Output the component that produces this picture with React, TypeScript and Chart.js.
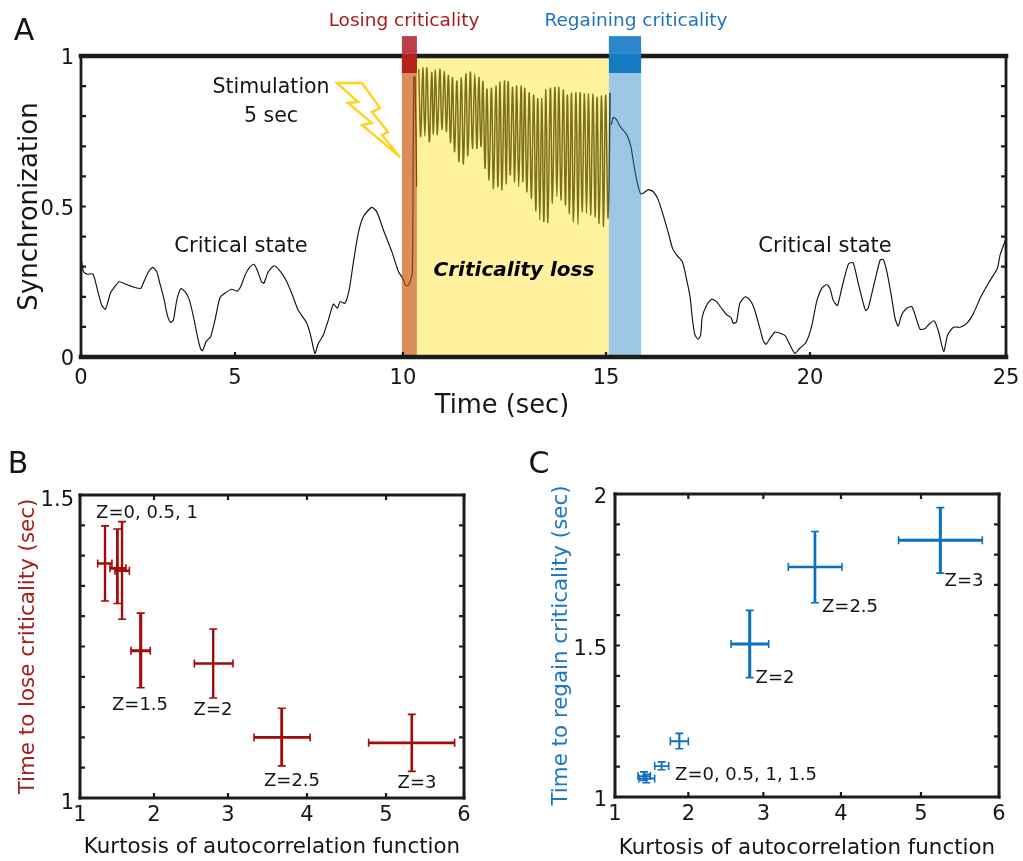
import React, { useEffect, useRef } from "react";
import { Chart, LinearScale, registerables } from "chart.js";

const FONT = "'DejaVu Sans'";

// ---------- Panel A data (time in s, synchronization) ----------
const preTimes = [0.02,0.08,0.21,0.38,0.45,0.56,0.67,0.79,0.89,0.96,1.10,1.24,1.48,1.75,1.94,2.02,2.19,2.33,2.46,2.56,2.69,2.80,2.91,3.00,3.11,3.24,3.38,3.52,3.65,3.78,3.89,3.95,4.06,4.21,4.35,4.51,4.67,4.89,5.07,5.17,5.30,5.45,5.56,5.66,5.79,5.86,5.99,6.16,6.32,6.49,6.69,6.88,7.13,7.25,7.38,7.48,7.63,7.78,7.93,8.05,8.13,8.27,8.40,8.52,8.67,8.82,9.07,9.22,9.42,9.67,9.87,10.0,10.07,10.14,10.23,10.25,10.27,10.30,10.34];
const preSync = [0.317,0.283,0.275,0.276,0.258,0.212,0.173,0.158,0.189,0.214,0.234,0.250,0.241,0.231,0.228,0.245,0.283,0.298,0.283,0.245,0.195,0.140,0.115,0.123,0.189,0.227,0.217,0.189,0.134,0.068,0.025,0.021,0.051,0.068,0.123,0.197,0.212,0.225,0.219,0.234,0.272,0.300,0.308,0.289,0.250,0.245,0.283,0.303,0.289,0.261,0.212,0.156,0.114,0.073,0.012,0.045,0.073,0.123,0.176,0.162,0.184,0.178,0.223,0.311,0.411,0.466,0.497,0.483,0.422,0.350,0.283,0.261,0.237,0.239,0.278,0.600,0.930,0.930,0.566];
const stimPeakTimes = [10.39,10.49,10.59,10.71,10.80,10.91,11.02,11.12,11.22,11.33,11.44,11.55,11.66,11.77,11.87,11.97,12.07,12.18,12.29,12.39,12.50,12.59,12.70,12.80,12.91,13.00,13.11,13.22,13.32,13.42,13.52,13.63,13.74,13.84,13.95,14.05,14.15,14.26,14.36,14.47,14.57,14.68,14.78,14.89,14.99,15.10];
const stimPeakSync = [0.956,0.961,0.961,0.945,0.953,0.956,0.948,0.935,0.928,0.917,0.928,0.940,0.947,0.940,0.929,0.915,0.890,0.893,0.901,0.913,0.917,0.915,0.896,0.900,0.900,0.893,0.878,0.870,0.859,0.859,0.889,0.893,0.896,0.896,0.887,0.870,0.876,0.878,0.878,0.874,0.874,0.873,0.863,0.867,0.870,0.878];
const stimTroughTimes = [10.44,10.54,10.65,10.75,10.85,10.96,11.07,11.17,11.27,11.38,11.49,11.60,11.71,11.82,11.92,12.02,12.12,12.23,12.34,12.44,12.54,12.64,12.75,12.85,12.95,13.05,13.16,13.27,13.37,13.47,13.57,13.68,13.79,13.89,14.00,14.10,14.20,14.31,14.41,14.52,14.62,14.73,14.83,14.94,15.05];
const stimTroughSync = [0.732,0.734,0.715,0.741,0.738,0.756,0.749,0.712,0.682,0.649,0.641,0.668,0.693,0.693,0.699,0.627,0.588,0.560,0.566,0.555,0.575,0.605,0.582,0.566,0.582,0.549,0.527,0.486,0.455,0.450,0.446,0.511,0.533,0.522,0.505,0.477,0.450,0.439,0.483,0.477,0.472,0.466,0.444,0.433,0.461];
const postTimes = [15.13,15.18,15.25,15.34,15.51,15.61,15.69,15.78,15.85,15.93,16.04,16.16,16.28,16.40,16.53,16.63,16.73,16.87,16.96,17.06,17.12,17.18,17.26,17.32,17.36,17.47,17.59,17.71,17.83,17.96,18.06,18.12,18.20,18.28,18.41,18.53,18.63,18.76,18.85,18.92,19.02,19.14,19.26,19.39,19.51,19.63,19.75,19.90,20.04,20.17,20.30,20.43,20.51,20.59,20.70,20.81,20.98,21.10,21.23,21.36,21.42,21.49,21.66,21.79,21.87,21.97,22.08,22.17,22.25,22.34,22.47,22.60,22.68,22.81,22.94,23.06,23.17,23.28,23.41,23.51,23.66,23.83,24.00,24.17,24.34,24.55,24.78,24.85,25.0];
const postSync = [0.771,0.796,0.790,0.767,0.738,0.699,0.632,0.571,0.542,0.546,0.556,0.549,0.522,0.472,0.411,0.361,0.339,0.317,0.267,0.200,0.123,0.073,0.059,0.073,0.134,0.173,0.192,0.184,0.162,0.140,0.132,0.112,0.117,0.178,0.200,0.189,0.162,0.101,0.056,0.042,0.062,0.083,0.079,0.071,0.040,0.012,0.029,0.048,0.101,0.184,0.228,0.241,0.228,0.189,0.171,0.228,0.309,0.313,0.245,0.178,0.154,0.165,0.256,0.322,0.324,0.278,0.200,0.128,0.103,0.140,0.162,0.167,0.140,0.092,0.095,0.112,0.120,0.084,0.018,0.073,0.099,0.099,0.112,0.145,0.195,0.245,0.295,0.339,0.394];

const timeTickLabels = [0, 5, 10, 15, 20, 25];
const syncTickLabels = [0, 0.5, 1];
const losingBand = [9.97, 10.345];
const lossBand = [10.345, 15.07];
const regainingBand = [15.07, 15.86];
const headerBox = [0.9435, 1.007, 1.066];

// ---------- Panel B data ----------
const bKurtosis = [1.338, 1.505, 1.568, 1.82, 2.8, 3.68, 5.33];
const bKurtosisLow = [1.239, 1.405, 1.473, 1.689, 2.545, 3.33, 4.78];
const bKurtosisHigh = [1.432, 1.622, 1.667, 1.95, 3.063, 4.04, 5.88];
const bTime = [1.387, 1.379, 1.375, 1.243, 1.222, 1.1, 1.091];
const bTimeLow = [1.325, 1.321, 1.295, 1.182, 1.165, 1.053, 1.044];
const bTimeHigh = [1.449, 1.444, 1.456, 1.305, 1.279, 1.148, 1.138];
const bStroke = [2.4, 2.8, 2.4, 3.1, 2.4, 2.8, 2.6];

// ---------- Panel C data ----------
const cKurtosis = [1.395, 1.427, 1.636, 1.877, 2.818, 3.665, 5.248];
const cKurtosisLow = [1.314, 1.327, 1.541, 1.755, 2.569, 3.322, 4.72];
const cKurtosisHigh = [1.482, 1.541, 1.732, 2.0, 3.069, 4.0125, 5.786];
const cTime = [1.069, 1.061, 1.102, 1.184, 1.505, 1.759, 1.847];
const cTimeLow = [1.055, 1.047, 1.09, 1.159, 1.394, 1.641, 1.739];
const cTimeHigh = [1.083, 1.075, 1.116, 1.21, 1.616, 1.876, 1.955];
const cStroke = [1.8, 1.8, 1.8, 2.1, 3, 2.7, 3];

const kurtosisStops = [1, 2, 3, 4, 5, 6];
const bKurtosisFractions = [0, 0.1927, 0.3854, 0.591, 0.797, 1];
const cKurtosisFractions = [0, 0.191, 0.3863, 0.5885, 0.7969, 1];
const timeStops = [0, 5, 10, 15, 20, 25];
const timeFractions = [0, 0.1665, 0.348, 0.5676, 0.7881, 1];

// The original axes are assembled from hand-placed panels: ticks are unevenly spaced.
class PiecewiseScale extends LinearScale {
  static id = "piecewise";
  static defaults = LinearScale.defaults;
  getPixelForValue(value: number) {
    const { stops, fractions } = this.options as any;
    if (value === null || value === undefined) return NaN;
    let i = 0;
    while (i < stops.length - 2 && value > stops[i + 1]) i++;
    const f = fractions[i] + ((value - stops[i]) / (stops[i + 1] - stops[i])) * (fractions[i + 1] - fractions[i]);
    return this.getPixelForDecimal(f);
  }
}
Chart.register(...registerables, PiecewiseScale);

type Note = { text: string; x: number; y: number; size: number; color?: string; weight?: string };

const textPlugin = (notes: Note[], ox: number, oy: number) => ({
  id: "notes",
  afterDraw(chart: any) {
    const { ctx } = chart;
    ctx.save();
    ctx.textAlign = "center";
    ctx.textBaseline = "middle";
    for (const n of notes) {
      ctx.font = `${n.weight ?? ""} ${n.size}px ${FONT}`;
      ctx.fillStyle = n.color ?? "#151515";
      ctx.fillText(n.text, n.x - ox, n.y - oy + 1.5);
    }
    ctx.restore();
  },
});

const framePlugin = (cfg: { tb: number; lr: number; top: boolean; len: number }) => ({
  id: "frame",
  afterDatasetsDraw(chart: any) {
    const { ctx, chartArea: a, scales } = chart;
    ctx.save();
    ctx.strokeStyle = "#1c1c1c";
    ctx.lineWidth = 2.2;
    ctx.beginPath();
    for (const t of scales.x.ticks) {
      const p = scales.x.getPixelForValue(t.value);
      ctx.moveTo(p, a.bottom);
      ctx.lineTo(p, a.bottom - cfg.len);
      if (cfg.top) {
        ctx.moveTo(p, a.top);
        ctx.lineTo(p, a.top + cfg.len);
      }
    }
    for (const t of scales.y.ticks) {
      const p = scales.y.getPixelForValue(t.value);
      ctx.moveTo(a.left, p);
      ctx.lineTo(a.left + cfg.len, p);
      ctx.moveTo(a.right, p);
      ctx.lineTo(a.right - cfg.len, p);
    }
    ctx.stroke();
    ctx.lineCap = "square";
    ctx.lineWidth = cfg.tb;
    ctx.beginPath();
    ctx.moveTo(a.left, a.top);
    ctx.lineTo(a.right, a.top);
    ctx.moveTo(a.left, a.bottom);
    ctx.lineTo(a.right, a.bottom);
    ctx.stroke();
    ctx.lineWidth = cfg.lr;
    ctx.beginPath();
    ctx.moveTo(a.left, a.top);
    ctx.lineTo(a.left, a.bottom);
    ctx.moveTo(a.right, a.top);
    ctx.lineTo(a.right, a.bottom);
    ctx.stroke();
    ctx.restore();
  },
});

const bandsPlugin = {
  id: "bands",
  afterDatasetsDraw(chart: any) {
    const { ctx, chartArea: a, scales: { x } } = chart;
    const rect = (b: number[], top: number, bottom: number, color: string) => {
      ctx.fillStyle = color;
      ctx.fillRect(x.getPixelForValue(b[0]), top, x.getPixelForValue(b[1]) - x.getPixelForValue(b[0]), bottom - top);
    };
    ctx.save();
    rect(lossBand, a.top, a.bottom, "rgba(254,225,40,0.45)");
    rect(losingBand, a.top, a.bottom, "rgba(197,83,5,0.65)");
    rect(regainingBand, a.top, a.bottom, "rgba(35,133,200,0.45)");
    ctx.restore();
  },
};

const boxesPlugin = {
  id: "boxes",
  afterDatasetsDraw(chart: any) {
    const { ctx, scales: { x, y } } = chart;
    const rect = (b: number[], lo: number, hi: number, color: string) => {
      ctx.fillStyle = color;
      const t = y.getPixelForValue(hi);
      ctx.fillRect(x.getPixelForValue(b[0]), t, x.getPixelForValue(b[1]) - x.getPixelForValue(b[0]), y.getPixelForValue(lo) - t);
    };
    ctx.save();
    rect(losingBand, headerBox[0], headerBox[1], "#B3231A");
    rect(losingBand, headerBox[1], headerBox[2], "#BB4049");
    rect(regainingBand, headerBox[0], headerBox[1], "#157BC2");
    rect(regainingBand, headerBox[1], headerBox[2], "#2B87CA");
    ctx.restore();
  },
};

const boltPlugin = {
  id: "bolt",
  afterDraw(chart: any) {
    const { ctx } = chart;
    const pts = [[337, 83], [362, 83], [380, 108], [372, 112], [388, 132], [382, 135], [400, 157], [362, 125], [372, 123], [348, 103], [358, 102]];
    ctx.save();
    ctx.beginPath();
    pts.forEach((p, i) => (i ? ctx.lineTo(p[0], p[1]) : ctx.moveTo(p[0], p[1])));
    ctx.closePath();
    ctx.fillStyle = "#ffffff";
    ctx.fill();
    ctx.strokeStyle = "#FFD31A";
    ctx.lineWidth = 2.4;
    ctx.stroke();
    ctx.restore();
  },
};

const crossPlugin = (lowX: number[], highX: number[], lowY: number[], highY: number[], stroke: number[], color: string) => ({
  id: "crosses",
  afterDatasetsDraw(chart: any) {
    const { ctx, scales: { x, y } } = chart;
    const pts = chart.data.datasets[0].data;
    ctx.save();
    ctx.strokeStyle = color;
    pts.forEach((p: any, i: number) => {
      const px = x.getPixelForValue(p.x);
      const py = y.getPixelForValue(p.y);
      const x0 = x.getPixelForValue(lowX[i]);
      const x1 = x.getPixelForValue(highX[i]);
      const y0 = y.getPixelForValue(lowY[i]);
      const y1 = y.getPixelForValue(highY[i]);
      ctx.lineWidth = stroke[i];
      ctx.beginPath();
      ctx.moveTo(x0, py);
      ctx.lineTo(x1, py);
      ctx.moveTo(px, y0);
      ctx.lineTo(px, y1);
      ctx.stroke();
      ctx.lineWidth = 1.6;
      ctx.beginPath();
      ctx.moveTo(x0, py - 4);
      ctx.lineTo(x0, py + 4);
      ctx.moveTo(x1, py - 4);
      ctx.lineTo(x1, py + 4);
      ctx.moveTo(px - 4, y0);
      ctx.lineTo(px + 4, y0);
      ctx.moveTo(px - 4, y1);
      ctx.lineTo(px + 4, y1);
      ctx.stroke();
    });
    ctx.restore();
  },
});

const fixAxis = (size: number, horizontal: boolean) => (s: any) => {
  if (horizontal) s.height = size;
  else s.width = size;
  s.paddingLeft = s.paddingRight = s.paddingTop = s.paddingBottom = 0;
};

const zip = (xs: number[], ys: number[]) => xs.map((x, i) => ({ x, y: ys[i] }));
const labelOnly = (list: number[]) => (v: number) => {
  const hit = list.find((l) => Math.abs(l - v) < 1e-6);
  return hit === undefined ? "" : String(hit);
};

const baseOptions = (): any => ({
  responsive: false,
  animation: false,
  events: [],
  plugins: { legend: { display: false }, tooltip: { enabled: false }, title: { display: false } },
});

const hiddenGrid = { display: false, drawTicks: false };

export default function App() {
  const a = useRef<HTMLCanvasElement>(null);
  const b = useRef<HTMLCanvasElement>(null);
  const c = useRef<HTMLCanvasElement>(null);

  useEffect(() => {
    const stim: { x: number; y: number }[] = [];
    stimPeakTimes.forEach((t, i) => {
      stim.push({ x: t, y: stimPeakSync[i] });
      if (i < stimTroughTimes.length) stim.push({ x: stimTroughTimes[i], y: stimTroughSync[i] });
    });

    const chartA = new Chart(a.current!, {
      type: "line",
      data: {
        datasets: [
          { data: zip(preTimes, preSync), borderColor: "#111", borderWidth: 1.15, pointRadius: 0, tension: 0.2 },
          { data: stim, borderColor: "#111", borderWidth: 1.5, pointRadius: 0, tension: 0.4 },
          { data: zip(postTimes, postSync), borderColor: "#111", borderWidth: 1.15, pointRadius: 0, tension: 0.2 },
        ],
      },
      options: {
        ...baseOptions(),
        layout: { padding: { top: 56, right: 17, left: 0, bottom: 0 } },
        scales: {
          x: {
            type: "piecewise",
            stops: timeStops,
            fractions: timeFractions,
            min: 0,
            max: 25,
            border: { display: false },
            grid: hiddenGrid,
            afterFit: fixAxis(63, true),
            afterBuildTicks: (s: any) => { s.ticks = timeTickLabels.map((value) => ({ value })); },
            ticks: { padding: 9, maxRotation: 0, autoSkip: false, color: "#151515", font: { family: FONT, size: 21 }, callback: (v: number) => String(v) },
          },
          y: {
            min: 0,
            max: 1,
            border: { display: false },
            grid: hiddenGrid,
            afterFit: fixAxis(81, false),
            title: { display: true, text: "Synchronization", color: "#151515", font: { family: FONT, size: 26 }, padding: { top: 15, bottom: 0 } },
            ticks: { stepSize: 0.1, padding: 7, labelOffset: 3, autoSkip: false, color: "#151515", font: { family: FONT, size: 21 }, callback: labelOnly(syncTickLabels) },
          },
        },
      } as any,
      plugins: [
        bandsPlugin,
        framePlugin({ tb: 4.6, lr: 2.8, top: false, len: 5 }),
        boxesPlugin,
        boltPlugin,
        textPlugin(
          [
            { text: "A", x: 24, y: 31, size: 30 },
            { text: "Losing criticality", x: 404, y: 20, size: 18.5, color: "#A81C16" },
            { text: "Regaining criticality", x: 636, y: 20, size: 18.5, color: "#1B73C0" },
            { text: "Stimulation", x: 271, y: 86, size: 20.5 },
            { text: "5 sec", x: 271, y: 115, size: 20.5 },
            { text: "Critical state", x: 241, y: 245, size: 21 },
            { text: "Critical state", x: 825, y: 245, size: 21 },
            { text: "Criticality loss", x: 514, y: 269, size: 20, weight: "italic bold", color: "#000" },
            { text: "Time (sec)", x: 502, y: 405, size: 25.7 },
          ],
          0,
          0
        ),
      ] as any,
    });

    const scatter = (
      canvas: HTMLCanvasElement,
      xs: number[],
      ys: number[],
      cfg: any,
      plugins: any[]
    ) =>
      new Chart(canvas, {
        type: "scatter",
        data: { datasets: [{ data: zip(xs, ys), pointRadius: 0, showLine: false }] },
        options: {
          ...baseOptions(),
          layout: { padding: { top: cfg.top, right: cfg.right, left: 0, bottom: 0 } },
          scales: {
            x: {
              type: "piecewise",
              stops: kurtosisStops,
              fractions: cfg.fractions,
              min: 1,
              max: 6,
              border: { display: false },
              grid: hiddenGrid,
              afterFit: fixAxis(cfg.bottom, true),
              title: { display: true, text: "Kurtosis of autocorrelation function", color: "#151515", font: { family: FONT, size: 21.4 }, padding: { top: 0, bottom: cfg.xTitlePad } },
              ticks: { stepSize: 1, padding: cfg.xTickPad, maxRotation: 0, autoSkip: false, color: "#151515", font: { family: FONT, size: 21 }, callback: (v: number) => String(v) },
            },
            y: {
              min: cfg.yMin,
              max: cfg.yMax,
              border: { display: false },
              grid: hiddenGrid,
              afterFit: fixAxis(cfg.left, false),
              title: { display: true, text: cfg.yTitle, color: cfg.yColor, font: { family: FONT, size: 21.4 }, padding: { top: cfg.yTitlePad, bottom: 0 } },
              ticks: { stepSize: cfg.yStep, padding: cfg.yTickPad, labelOffset: cfg.yLabelOffset, autoSkip: false, color: "#151515", font: { family: FONT, size: 21 }, callback: labelOnly(cfg.yLabels) },
            },
          },
        } as any,
        plugins,
      });

    const chartB = scatter(
      b.current!,
      bKurtosis,
      bTime,
      { top: 55, right: 36, bottom: 63, left: 80, fractions: bKurtosisFractions, xTitlePad: 1, xTickPad: 5, yMin: 1, yMax: 1.5, yStep: 0.05, yLabels: [1, 1.5], yTitle: "Time to lose criticality (sec)", yColor: "#A41E1E", yTitlePad: 16, yTickPad: 6, yLabelOffset: 6 },
      [
        crossPlugin(bKurtosisLow, bKurtosisHigh, bTimeLow, bTimeHigh, bStroke, "#A30A0A"),
        framePlugin({ tb: 3, lr: 3, top: true, len: 5 }),
        textPlugin(
          [
            { text: "B", x: 18, y: 464, size: 30 },
            { text: "Z=0, 0.5, 1", x: 147, y: 512, size: 18 },
            { text: "Z=1.5", x: 140, y: 704, size: 18 },
            { text: "Z=2", x: 213, y: 709, size: 18 },
            { text: "Z=2.5", x: 292, y: 780, size: 18 },
            { text: "Z=3", x: 417, y: 782, size: 18 },
          ],
          0,
          440
        ),
      ]
    );

    const chartC = scatter(
      c.current!,
      cKurtosis,
      cTime,
      { top: 54, right: 24, bottom: 64, left: 95, fractions: cKurtosisFractions, xTitlePad: 0, xTickPad: 5, yMin: 1, yMax: 2, yStep: 0.1, yLabels: [1, 1.5, 2], yTitle: "Time to regain criticality (sec)", yColor: "#1B78C8", yTitlePad: 29, yTickPad: 8, yLabelOffset: 4 },
      [
        crossPlugin(cKurtosisLow, cKurtosisHigh, cTimeLow, cTimeHigh, cStroke, "#0F6FBF"),
        framePlugin({ tb: 3, lr: 3, top: true, len: 5 }),
        textPlugin(
          [
            { text: "C", x: 539, y: 464, size: 30 },
            { text: "Z=3", x: 964, y: 580, size: 18 },
            { text: "Z=2.5", x: 850, y: 606, size: 18 },
            { text: "Z=2", x: 775, y: 677, size: 18 },
            { text: "Z=0, 0.5, 1, 1.5", x: 746, y: 774, size: 18 },
          ],
          520,
          440
        ),
      ]
    );

    return () => {
      chartA.destroy();
      chartB.destroy();
      chartC.destroy();
    };
  }, []);

  const place = (left: number, top: number): React.CSSProperties => ({ position: "absolute", left, top, display: "block" });
  return (
    <div style={{ position: "absolute", left: 0, top: 0, width: 1023, height: 861, background: "#fff", overflow: "hidden" }}>
      <canvas ref={a} width={1023} height={420} style={place(0, 0)} />
      <canvas ref={b} width={500} height={421} style={place(0, 440)} />
      <canvas ref={c} width={503} height={421} style={place(520, 440)} />
    </div>
  );
}
